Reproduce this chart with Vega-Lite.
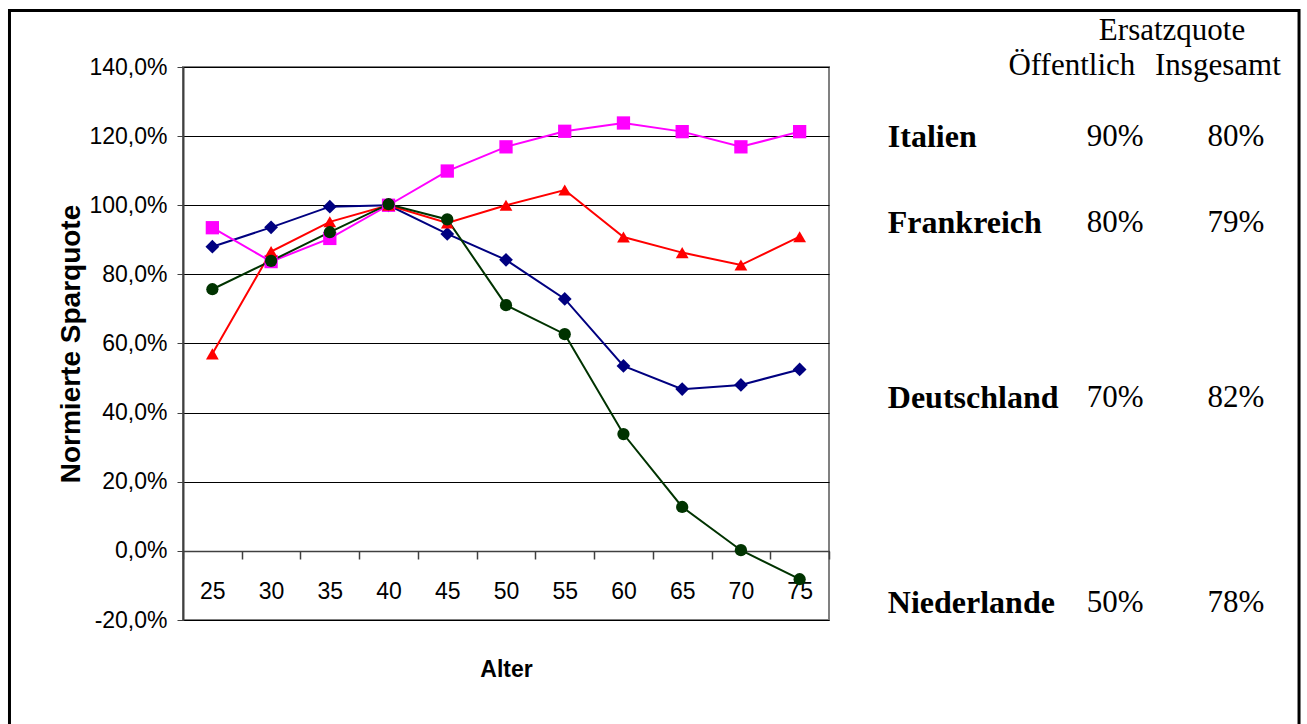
{
  "$schema": "https://vega.github.io/schema/vega-lite/v6.json",
  "autosize": {"type": "none"},
  "padding": {"left": 183, "top": 67, "right": 478, "bottom": 104},
  "width": 646,
  "height": 553,
  "background": "white",
  "config": {
    "locale": {"number": {"decimal": ",", "thousands": ".", "grouping": [3], "currency": ["", " €"], "minus": "-"}},
    "view": {"stroke": "#808080", "strokeWidth": 2}
  },
  "datasets": {
    "quote": [
      {"Land": "Deutschland", "Alter": 25, "q": 0.880},
      {"Land": "Deutschland", "Alter": 30, "q": 0.936},
      {"Land": "Deutschland", "Alter": 35, "q": 0.996},
      {"Land": "Deutschland", "Alter": 40, "q": 1.0},
      {"Land": "Deutschland", "Alter": 45, "q": 0.917},
      {"Land": "Deutschland", "Alter": 50, "q": 0.842},
      {"Land": "Deutschland", "Alter": 55, "q": 0.729},
      {"Land": "Deutschland", "Alter": 60, "q": 0.535},
      {"Land": "Deutschland", "Alter": 65, "q": 0.468},
      {"Land": "Deutschland", "Alter": 70, "q": 0.480},
      {"Land": "Deutschland", "Alter": 75, "q": 0.525},
      {"Land": "Italien", "Alter": 25, "q": 0.935},
      {"Land": "Italien", "Alter": 30, "q": 0.837},
      {"Land": "Italien", "Alter": 35, "q": 0.904},
      {"Land": "Italien", "Alter": 40, "q": 1.0},
      {"Land": "Italien", "Alter": 45, "q": 1.099},
      {"Land": "Italien", "Alter": 50, "q": 1.169},
      {"Land": "Italien", "Alter": 55, "q": 1.214},
      {"Land": "Italien", "Alter": 60, "q": 1.238},
      {"Land": "Italien", "Alter": 65, "q": 1.213},
      {"Land": "Italien", "Alter": 70, "q": 1.169},
      {"Land": "Italien", "Alter": 75, "q": 1.213},
      {"Land": "Frankreich", "Alter": 25, "q": 0.570},
      {"Land": "Frankreich", "Alter": 30, "q": 0.866},
      {"Land": "Frankreich", "Alter": 35, "q": 0.952},
      {"Land": "Frankreich", "Alter": 40, "q": 1.0},
      {"Land": "Frankreich", "Alter": 45, "q": 0.949},
      {"Land": "Frankreich", "Alter": 50, "q": 1.0},
      {"Land": "Frankreich", "Alter": 55, "q": 1.044},
      {"Land": "Frankreich", "Alter": 60, "q": 0.908},
      {"Land": "Frankreich", "Alter": 65, "q": 0.863},
      {"Land": "Frankreich", "Alter": 70, "q": 0.827},
      {"Land": "Frankreich", "Alter": 75, "q": 0.909},
      {"Land": "Niederlande", "Alter": 25, "q": 0.757},
      {"Land": "Niederlande", "Alter": 30, "q": 0.839},
      {"Land": "Niederlande", "Alter": 35, "q": 0.922},
      {"Land": "Niederlande", "Alter": 40, "q": 1.003},
      {"Land": "Niederlande", "Alter": 45, "q": 0.959},
      {"Land": "Niederlande", "Alter": 50, "q": 0.711},
      {"Land": "Niederlande", "Alter": 55, "q": 0.627},
      {"Land": "Niederlande", "Alter": 60, "q": 0.338},
      {"Land": "Niederlande", "Alter": 65, "q": 0.127},
      {"Land": "Niederlande", "Alter": 70, "q": 0.002},
      {"Land": "Niederlande", "Alter": 75, "q": -0.082}
    ],
    "tabelle": [
      {"txt": "Ersatzquote", "px": 1.531, "py": 1.504, "art": "kopf"},
      {"txt": "Öffentlich", "px": 1.376, "py": 1.403, "art": "kopf"},
      {"txt": "Insgesamt", "px": 1.602, "py": 1.403, "art": "kopf"},
      {"txt": "Italien", "px": 1.091, "py": 1.198, "art": "land"},
      {"txt": "90%", "px": 1.443, "py": 1.198, "art": "zahl"},
      {"txt": "80%", "px": 1.630, "py": 1.198, "art": "zahl"},
      {"txt": "Frankreich", "px": 1.091, "py": 0.949, "art": "land"},
      {"txt": "80%", "px": 1.443, "py": 0.949, "art": "zahl"},
      {"txt": "79%", "px": 1.630, "py": 0.949, "art": "zahl"},
      {"txt": "Deutschland", "px": 1.091, "py": 0.442, "art": "land"},
      {"txt": "70%", "px": 1.443, "py": 0.442, "art": "zahl"},
      {"txt": "82%", "px": 1.630, "py": 0.442, "art": "zahl"},
      {"txt": "Niederlande", "px": 1.091, "py": -0.151, "art": "land"},
      {"txt": "50%", "px": 1.443, "py": -0.151, "art": "zahl"},
      {"txt": "78%", "px": 1.630, "py": -0.151, "art": "zahl"}
    ],
    "rahmen": [
      {"px": -0.2686, "px2": 1.7276, "py": 1.5635, "py2": -0.721}
    ]
  },
  "resolve": {"scale": {"x": "independent", "y": "independent"}},
  "layer": [
    {
      "data": {"name": "quote"},
      "encoding": {
        "x": {
          "field": "Alter", "type": "ordinal", "bandPosition": 0.5,
          "scale": {"type": "band", "paddingInner": 0, "paddingOuter": 0},
          "axis": {
            "title": "Alter", "offset": -69, "tickBand": "extent",
            "labelAngle": 0, "labelFont": "Liberation Sans",
            "labelFontSize": 23, "labelColor": "black", "labelPadding": 21,
            "tickSize": 8, "tickColor": "#404040", "tickWidth": 1.5,
            "domainColor": "#404040", "domainWidth": 1.5, "grid": false,
            "titleFont": "Liberation Sans",
            "titleFontSize": 23, "titleFontWeight": "bold", "titleColor": "black", "titlePadding": 55
          }
        },
        "y": {
          "field": "q", "type": "quantitative",
          "scale": {"domain": [-0.2, 1.4], "nice": false, "zero": false},
          "axis": {
            "title": "Normierte Sparquote", "format": ".1%", "values": [-0.2, 0, 0.2, 0.4, 0.6, 0.8, 1.0, 1.2, 1.4],
            "labelFont": "Liberation Sans", "labelFontSize": 23,
            "labelColor": "black", "labelPadding": 10, "tickSize": 6, "tickColor": "#404040",
            "domainColor": "#404040", "domainWidth": 2, "grid": true, "gridColor": "black", "gridWidth": 1,
            "titleFont": "Liberation Sans", "titleFontSize": 28, "titleFontWeight": "bold",
            "titleColor": "black", "titlePadding": 3
          }
        },
        "color": {
          "field": "Land", "type": "nominal", "legend": null,
          "scale": {"domain": ["Deutschland", "Italien", "Frankreich", "Niederlande"], "range": ["#000080", "#FF00FF", "#FF0000", "#003300"]}
        }
      },
      "layer": [
        {"mark": {"type": "line", "strokeWidth": 2}},
        {
          "mark": {"type": "point", "filled": true, "opacity": 1},
          "encoding": {
            "shape": {
              "field": "Land", "type": "nominal", "legend": null,
              "scale": {"domain": ["Deutschland", "Italien", "Frankreich", "Niederlande"], "range": ["diamond", "square", "triangle-up", "circle"]}
            },
            "size": {
              "field": "Land", "type": "nominal", "legend": null,
              "scale": {"domain": ["Deutschland", "Italien", "Frankreich", "Niederlande"], "range": [190, 150, 180, 150]}
            }
          }
        }
      ]
    },
    {
      "encoding": {
        "x": {"field": "px", "type": "quantitative", "axis": null, "scale": {"domain": [0, 1], "nice": false, "zero": false}},
        "y": {"field": "py", "type": "quantitative", "axis": null, "scale": {"domain": [-0.2, 1.4], "nice": false, "zero": false}}
      },
      "layer": [
        {
          "data": {"name": "rahmen"},
          "mark": {"type": "rect", "filled": false, "stroke": "black", "strokeWidth": 3},
          "encoding": {"x2": {"field": "px2"}, "y2": {"field": "py2"}}
        },
        {
          "data": {"name": "tabelle"},
          "transform": [{"filter": "datum.art === 'land'"}],
          "mark": {"type": "text", "align": "left", "baseline": "middle", "font": "Liberation Serif", "fontSize": 32, "fontWeight": "bold", "color": "black"},
          "encoding": {"text": {"field": "txt"}}
        },
        {
          "data": {"name": "tabelle"},
          "transform": [{"filter": "datum.art !== 'land'"}],
          "mark": {"type": "text", "align": "center", "baseline": "middle", "font": "Liberation Serif", "fontSize": 31, "color": "black"},
          "encoding": {"text": {"field": "txt"}}
        }
      ]
    }
  ]
}
